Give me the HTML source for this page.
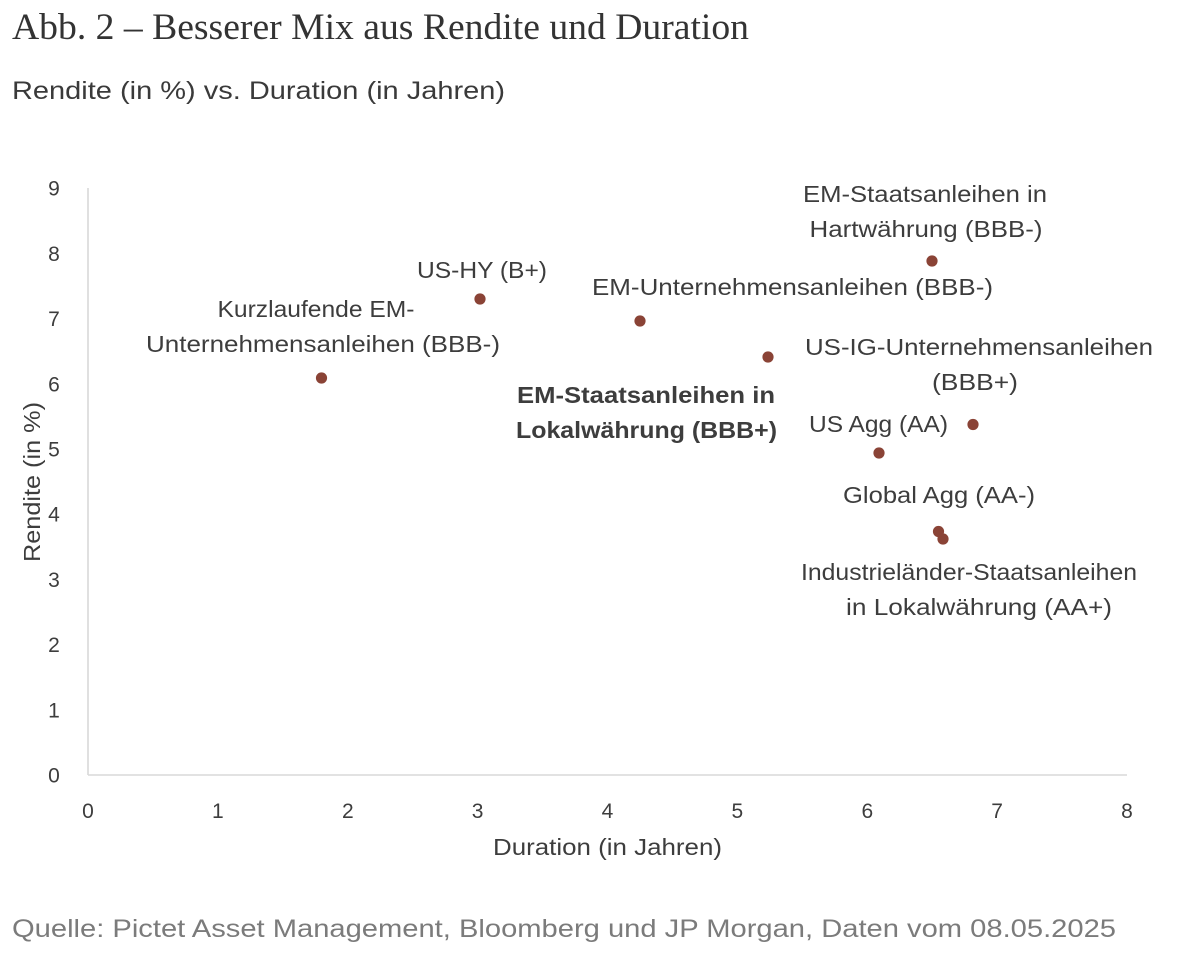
<!DOCTYPE html>
<html>
<head>
<meta charset="utf-8">
<style>
  html,body{margin:0;padding:0;background:#fff;}
  svg{display:block;}
  .lbl{font-family:"Liberation Sans",sans-serif;font-size:23px;fill:#3d3d3d;}
  .tick{font-family:"Liberation Sans",sans-serif;font-size:21px;fill:#3d3d3d;}
</style>
</head>
<body>
<svg width="1185" height="958" viewBox="0 0 1185 958" xmlns="http://www.w3.org/2000/svg">
  <rect width="1185" height="958" fill="#fff"/>
  <!-- Title -->
  <text x="12" y="39" font-family="'Liberation Serif',serif" font-size="37" fill="#333" textLength="737" lengthAdjust="spacingAndGlyphs">Abb. 2 – Besserer Mix aus Rendite und Duration</text>
  <!-- Subtitle -->
  <text x="12" y="99" font-family="'Liberation Sans',sans-serif" font-size="25" fill="#3a3a3a" textLength="493" lengthAdjust="spacingAndGlyphs">Rendite (in %) vs. Duration (in Jahren)</text>

  <!-- Axes -->
  <line x1="88" y1="188" x2="88" y2="775" stroke="#d9d9d9" stroke-width="1.6"/>
  <line x1="88" y1="775" x2="1127" y2="775" stroke="#d9d9d9" stroke-width="1.6"/>

  <!-- Y ticks -->
  <g class="tick" text-anchor="middle">
    <text x="54" y="782.5">0</text>
    <text x="54" y="717.3">1</text>
    <text x="54" y="652.1">2</text>
    <text x="54" y="586.9">3</text>
    <text x="54" y="521.7">4</text>
    <text x="54" y="456.5">5</text>
    <text x="54" y="391.3">6</text>
    <text x="54" y="326.1">7</text>
    <text x="54" y="260.9">8</text>
    <text x="54" y="195.7">9</text>
  </g>
  <!-- X ticks -->
  <g class="tick" text-anchor="middle">
    <text x="88" y="818">0</text>
    <text x="217.9" y="818">1</text>
    <text x="347.8" y="818">2</text>
    <text x="477.6" y="818">3</text>
    <text x="607.5" y="818">4</text>
    <text x="737.4" y="818">5</text>
    <text x="867.3" y="818">6</text>
    <text x="997.1" y="818">7</text>
    <text x="1127" y="818">8</text>
  </g>

  <!-- Axis titles -->
  <text class="lbl" x="607.5" y="855" text-anchor="middle" textLength="229" lengthAdjust="spacingAndGlyphs">Duration (in Jahren)</text>
  <text class="lbl" transform="translate(40,482) rotate(-90)" x="0" y="0" text-anchor="middle" textLength="160" lengthAdjust="spacingAndGlyphs">Rendite (in %)</text>

  <!-- Points -->
  <g fill="#8a4336">
    <circle cx="321.5" cy="378" r="5.6"/>
    <circle cx="480" cy="299" r="5.6"/>
    <circle cx="640" cy="321" r="5.6"/>
    <circle cx="768" cy="357" r="5.6"/>
    <circle cx="932" cy="261" r="5.6"/>
    <circle cx="973" cy="424.5" r="5.6"/>
    <circle cx="879" cy="453" r="5.6"/>
    <circle cx="938.5" cy="531.5" r="5.6"/>
    <circle cx="943" cy="539" r="5.6"/>
  </g>

  <!-- Labels -->
  <g class="lbl" text-anchor="middle">
    <text x="925" y="202" textLength="244" lengthAdjust="spacingAndGlyphs">EM-Staatsanleihen in</text>
    <text x="926" y="237" textLength="233" lengthAdjust="spacingAndGlyphs">Hartwährung (BBB-)</text>

    <text x="482" y="278" textLength="130" lengthAdjust="spacingAndGlyphs">US-HY (B+)</text>

    <text x="792.5" y="295" textLength="401" lengthAdjust="spacingAndGlyphs">EM-Unternehmensanleihen (BBB-)</text>

    <text x="316" y="317" textLength="197" lengthAdjust="spacingAndGlyphs">Kurzlaufende EM-</text>
    <text x="323" y="352" textLength="354" lengthAdjust="spacingAndGlyphs">Unternehmensanleihen (BBB-)</text>

    <text x="979" y="355" textLength="348" lengthAdjust="spacingAndGlyphs">US-IG-Unternehmensanleihen</text>
    <text x="975" y="390" textLength="86" lengthAdjust="spacingAndGlyphs">(BBB+)</text>

    <text x="646" y="403" font-weight="bold" textLength="258" lengthAdjust="spacingAndGlyphs">EM-Staatsanleihen in</text>
    <text x="646.5" y="438" font-weight="bold" textLength="261" lengthAdjust="spacingAndGlyphs">Lokalwährung (BBB+)</text>

    <text x="878.5" y="432" textLength="139" lengthAdjust="spacingAndGlyphs">US Agg (AA)</text>

    <text x="939" y="503" textLength="192" lengthAdjust="spacingAndGlyphs">Global Agg (AA-)</text>

    <text x="969" y="580" textLength="336" lengthAdjust="spacingAndGlyphs">Industrieländer-Staatsanleihen</text>
    <text x="979" y="615" textLength="266" lengthAdjust="spacingAndGlyphs">in Lokalwährung (AA+)</text>
  </g>

  <!-- Source -->
  <text x="12" y="937" font-family="'Liberation Sans',sans-serif" font-size="25" fill="#7b7b7b" textLength="1104" lengthAdjust="spacingAndGlyphs">Quelle: Pictet Asset Management, Bloomberg und JP Morgan, Daten vom 08.05.2025</text>
</svg>
</body>
</html>
